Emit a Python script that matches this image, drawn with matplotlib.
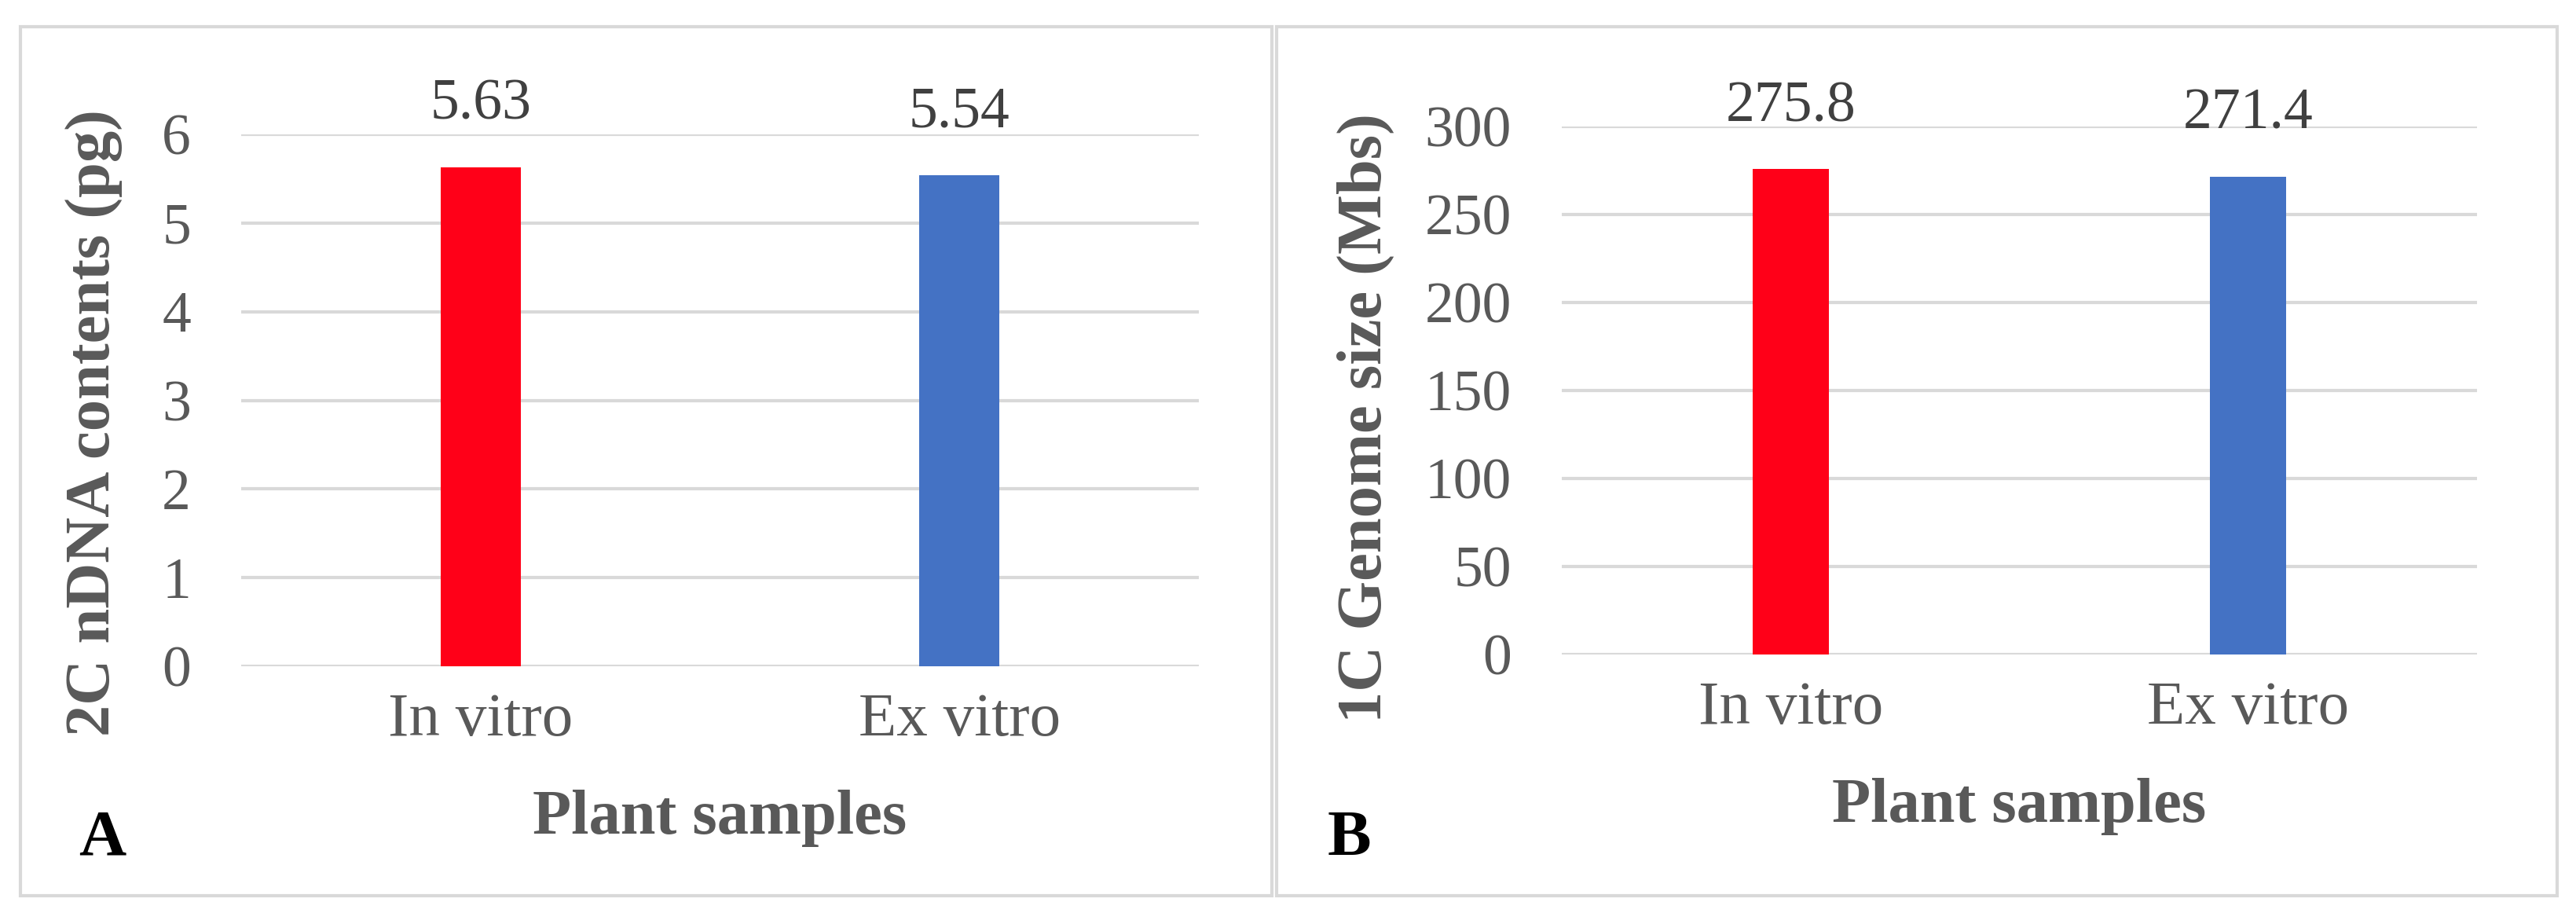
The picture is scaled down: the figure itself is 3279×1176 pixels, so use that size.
import matplotlib
matplotlib.use("Agg")
import matplotlib.pyplot as plt
from matplotlib.patches import Rectangle

# ---- data ----
categories = ["In vitro", "Ex vitro"]
dna_2c_pg = [5.63, 5.54]
genome_1c_mbs = [275.8, 271.4]
yticks_a = [0, 1, 2, 3, 4, 5, 6]
yticks_b = [0, 50, 100, 150, 200, 250, 300]
ylabel_a = "2C nDNA contents (pg)"
ylabel_b = "1C Genome size (Mbs)"
xlabel = "Plant samples"
panel_tags = ["A", "B"]

bar_colors = ["#FF0018", "#4472C4"]
GRID = "#D9D9D9"
TICK = "#595959"
VAL = "#404040"

W, H = 3280, 1176
plt.rcParams['font.family'] = ['Liberation Serif', 'DejaVu Serif']

fig = plt.figure(figsize=(W / 100, H / 100), dpi=100)


def fx(px):
    return px / W


def fy(py):
    return 1 - py / H


def panel(ax_px, values, yticks, fmt, ylabel, ylab_pos, xlab_pos, tag, tag_pos, box):
    x0, x1, ytop, ybot = ax_px
    ax = fig.add_axes([fx(x0), fy(ybot), fx(x1 - x0), (ybot - ytop) / H])
    xs = list(range(len(categories)))
    ax.bar(xs, values, width=0.167, color=bar_colors, zorder=3)
    ax.set_xlim(-0.5, len(categories) - 0.5)
    ax.set_ylim(yticks[0], yticks[-1])
    ax.set_yticks(yticks)
    ax.set_xticks(xs)
    ax.set_xticklabels(categories)
    ax.yaxis.grid(True, color=GRID, linewidth=3, zorder=0)
    ax.set_axisbelow(True)
    for s in ax.spines.values():
        s.set_visible(False)
    ax.tick_params(axis='y', length=0, pad=46, labelsize=53, labelcolor=TICK)
    ax.tick_params(axis='x', length=0, pad=24, labelsize=57, labelcolor=TICK)
    for x, v in zip(xs, values):
        ax.annotate(fmt.format(v), xy=(x, v), xytext=(0, 44), textcoords='offset points',
                    ha='center', va='baseline', fontsize=53, color=VAL)
    fig.text(fx(ylab_pos[0]), fy(ylab_pos[1]), ylabel, rotation=90, ha='center', va='center',
             fontsize=58, fontweight='bold', color=TICK)
    fig.text(fx(xlab_pos[0]), fy(xlab_pos[1]), xlabel, ha='center', va='baseline',
             fontsize=58, fontweight='bold', color=TICK)
    fig.text(fx(tag_pos[0]), fy(tag_pos[1]), tag, ha='center', va='baseline',
             fontsize=60, fontweight='bold', color='black')
    bx0, bx1, by0, by1 = box
    fig.patches.append(Rectangle((fx(bx0), fy(by1)), fx(bx1 - bx0), (by1 - by0) / H,
                                 transform=fig.transFigure, fill=False,
                                 edgecolor=GRID, linewidth=3))
    return ax


panel((307, 1526, 171, 848), dna_2c_pg, yticks_a, "{:.2f}", ylabel_a,
      (120, 538), (916, 1061), panel_tags[0], (130, 1088), (26, 1619, 34, 1140))
panel((1988, 3153, 161, 833), genome_1c_mbs, yticks_b, "{:.1f}", ylabel_b,
      (1738, 532), (2570, 1046), panel_tags[1], (1717, 1088), (1625, 3255, 34, 1140))

fig.savefig("out.png", dpi=100)
